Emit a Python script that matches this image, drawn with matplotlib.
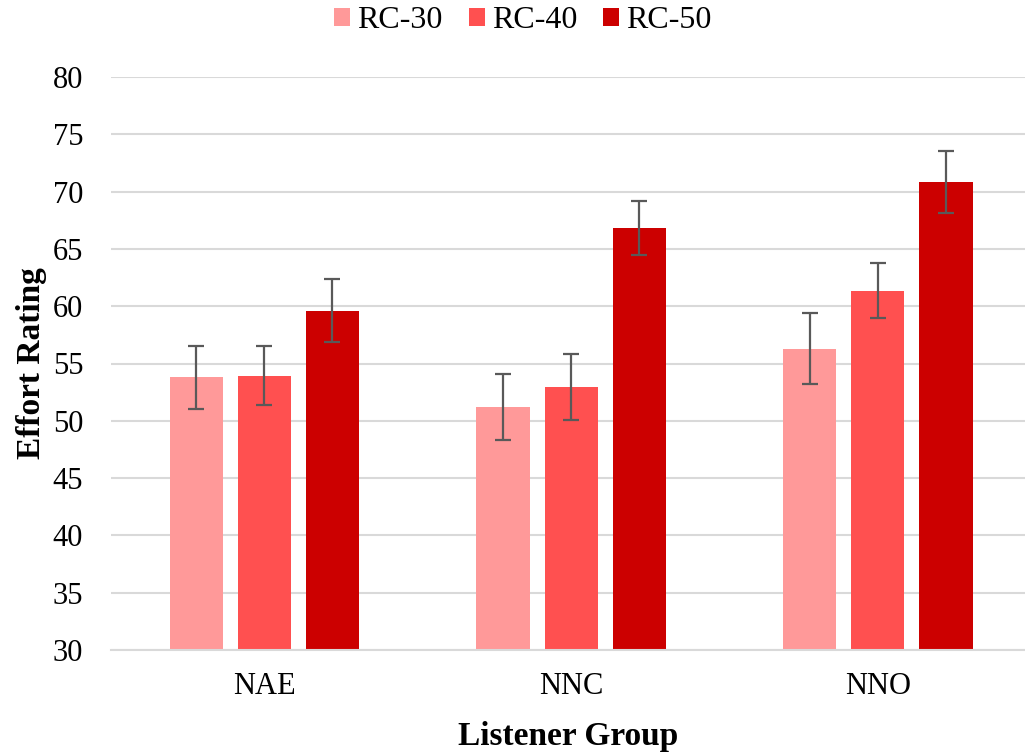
import matplotlib.pyplot as plt
import numpy as np

plt.rcParams['font.family'] = ['Liberation Serif', 'DejaVu Serif']

# data
groups = ['NAE', 'NNC', 'NNO']
series = ['RC-30', 'RC-40', 'RC-50']
means = {
    'RC-30': [53.8, 51.2, 56.3],
    'RC-40': [53.95, 52.97, 61.36],
    'RC-50': [59.6, 66.83, 70.82],
}
errors = {
    'RC-30': [2.73, 2.9, 3.1],
    'RC-40': [2.55, 2.9, 2.39],
    'RC-50': [2.75, 2.37, 2.73],
}
colors = ['#FF9999', '#FF5050', '#CC0000']

fig = plt.figure(figsize=(10.25, 7.52), dpi=100)
ax = fig.add_axes([111 / 1025, 1 - 650 / 752, 1 - 111 / 1025, (650 - 77) / 752])

x = np.arange(len(groups))
pitch = 0.222
width = 0.173

for i, (name, col) in enumerate(zip(series, colors)):
    pos = x + (i - 1) * pitch
    ax.bar(pos, np.array(means[name]) - 30, width, bottom=30, color=col, label=name, zorder=2)
    ax.errorbar(pos, means[name], yerr=errors[name], fmt='none', ecolor='#595959',
                elinewidth=1.6, capsize=6, capthick=1.6, zorder=3)

ax.set_ylim(30, 80)
ax.set_yticks(np.arange(30, 81, 5))
ax.set_xlim(-0.5, -0.5 + (1025 - 111) / 306.75)
ax.set_xticks(x)
ax.set_xticklabels(groups)

ax.grid(axis='y', color='#D9D9D9', linewidth=1.5, zorder=0)
ax.set_axisbelow(True)
for s in ['top', 'right', 'left']:
    ax.spines[s].set_visible(False)
ax.spines['bottom'].set_color('#D9D9D9')
ax.spines['bottom'].set_linewidth(1.5)
ax.tick_params(axis='both', length=0, labelsize=22)
ax.tick_params(axis='y', pad=20)
ax.tick_params(axis='x', pad=16)

ax.set_xlabel('Listener Group', fontsize=24, fontweight='bold', labelpad=14)
ax.set_ylabel('Effort Rating', fontsize=24, fontweight='bold', labelpad=4)

fig.legend(loc='center', bbox_to_anchor=(523 / 1025, 1 - 21 / 752), ncol=3, frameon=False,
           fontsize=23, handlelength=0.5, handleheight=0.5, handletextpad=0.22,
           columnspacing=0.82)

fig.savefig('out.png', dpi=100)
